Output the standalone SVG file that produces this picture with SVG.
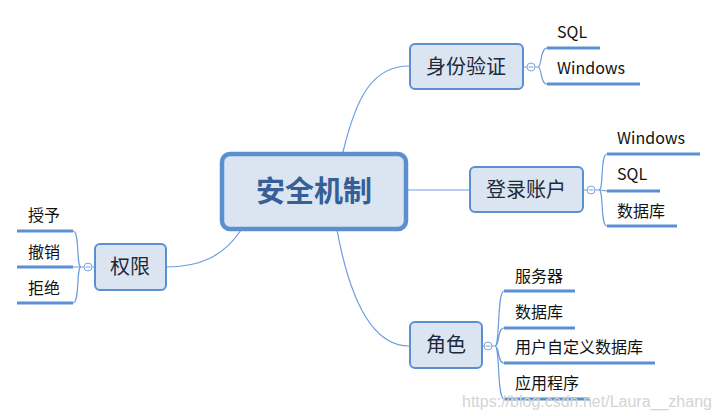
<svg xmlns="http://www.w3.org/2000/svg" width="718" height="416" viewBox="0 0 718 416">
<style>
.node{fill:#dbe5f1;stroke:#5a8fd2;stroke-width:2}
.root{fill:#dbe5f1;stroke:#5a8fd2;stroke-width:4.5}
.lbl{font-family:"Noto Sans CJK SC","Liberation Sans",sans-serif;font-size:20px;fill:#1c2a3c;text-anchor:middle}
.rt{font-family:"Noto Sans CJK SC","Liberation Sans",sans-serif;font-size:29px;font-weight:bold;fill:#355f96;text-anchor:middle}
.leaf{font-family:"Noto Sans CJK SC","Liberation Sans",sans-serif;font-size:16px;fill:#111}
.ul{stroke:#5a8fd2;stroke-width:3;fill:none}
.c{stroke:#6d9de0;stroke-width:1.2;fill:none}
.dot{fill:#fff;stroke:#7aa5e0;stroke-width:1}
.wm{font-family:"Liberation Sans",sans-serif;font-size:16px;fill:#d4d4d4}
</style>
<rect width="718" height="416" fill="#fff"/>
<g id="connectors">
<path class="c" d="M343,152 C356,98 372,66 409,66"/>
<path class="c" d="M408,190 L469,190"/>
<path class="c" d="M337,230 C350,300 372,346 409,346"/>
<path class="c" d="M241,230 C224,256 200,267 166,267"/>
<path class="c" d="M523,67 L527,67 M535,67 L538,67 C542,67 540,48 547,48 M538,67 C542,67 540,84 547,84"/>
<path class="c" d="M583,190 L587,190 M595,190 L599,190 C604,190 600,154 607,154 M599,190 L607,191 M599,190 C604,190 600,226 607,226"/>
<path class="c" d="M482,346 L484,346 M492,346 L495,346 C500,346 497,291 504,291 M495,346 C500,346 497,328 504,328 M495,346 C500,346 497,363 504,363 M495,346 C500,346 497,399 504,399"/>
<path class="c" d="M95,267 L92,267 M84,267 L81,267 C76,267 80,231 73,231 M81,267 L73,267 M81,267 C76,267 80,303 73,303"/>
</g>
<g id="root">
<rect class="root" x="222" y="154" width="184" height="75" rx="8"/>
<text class="rt" x="314" y="202">安全机制</text>
</g>
<g id="n-auth">
<rect class="node" x="410" y="44" width="113" height="45" rx="5"/>
<text class="lbl" x="466" y="74">身份验证</text>
<circle class="dot" cx="531" cy="67" r="4"/>
<line x1="528.5" y1="67" x2="533.5" y2="67" stroke="#7aa5e0" stroke-width="1"/>
</g>
<g id="n-auth-sql"><line class="ul" x1="547" y1="48" x2="600" y2="48"/><text class="leaf" x="557" y="38">SQL</text></g>
<g id="n-auth-win"><line class="ul" x1="547" y1="84" x2="640" y2="84"/><text class="leaf" x="557" y="74">Windows</text></g>
<g id="n-login">
<rect class="node" x="470" y="167" width="113" height="45" rx="5"/>
<text class="lbl" x="526" y="197">登录账户</text>
<circle class="dot" cx="591" cy="190" r="4"/>
<line x1="588.5" y1="190" x2="593.5" y2="190" stroke="#7aa5e0" stroke-width="1"/>
</g>
<g id="n-login-win"><line class="ul" x1="607" y1="154" x2="700" y2="154"/><text class="leaf" x="617" y="144">Windows</text></g>
<g id="n-login-sql"><line class="ul" x1="607" y1="191" x2="660" y2="191"/><text class="leaf" x="617" y="180">SQL</text></g>
<g id="n-login-db"><line class="ul" x1="607" y1="226" x2="677" y2="226"/><text class="leaf" x="617" y="217">数据库</text></g>
<g id="n-role">
<rect class="node" x="410" y="322" width="72" height="46" rx="5"/>
<text class="lbl" x="446" y="352">角色</text>
<circle class="dot" cx="488" cy="346" r="4"/>
<line x1="485.5" y1="346" x2="490.5" y2="346" stroke="#7aa5e0" stroke-width="1"/>
</g>
<g id="n-role-srv"><line class="ul" x1="504" y1="291" x2="575" y2="291"/><text class="leaf" x="515" y="282">服务器</text></g>
<g id="n-role-db"><line class="ul" x1="504" y1="328" x2="575" y2="328"/><text class="leaf" x="515" y="318">数据库</text></g>
<g id="n-role-udb"><line class="ul" x1="504" y1="363" x2="655" y2="363"/><text class="leaf" x="515" y="353">用户自定义数据库</text></g>
<g id="n-role-app"><line class="ul" x1="504" y1="399" x2="590" y2="399"/><text class="leaf" x="515" y="389">应用程序</text></g>
<g id="n-perm">
<rect class="node" x="95" y="244" width="71" height="46" rx="5"/>
<text class="lbl" x="130" y="274">权限</text>
<circle class="dot" cx="88" cy="267" r="4"/>
<line x1="85.5" y1="267" x2="90.5" y2="267" stroke="#7aa5e0" stroke-width="1"/>
</g>
<g id="n-perm-grant"><line class="ul" x1="17" y1="231" x2="73" y2="231"/><text class="leaf" x="28" y="221">授予</text></g>
<g id="n-perm-revoke"><line class="ul" x1="17" y1="267" x2="73" y2="267"/><text class="leaf" x="28" y="258">撤销</text></g>
<g id="n-perm-deny"><line class="ul" x1="17" y1="303" x2="73" y2="303"/><text class="leaf" x="28" y="294">拒绝</text></g>
<text class="wm" x="462" y="407">https://blog.csdn.net/Laura__zhang</text>
</svg>
